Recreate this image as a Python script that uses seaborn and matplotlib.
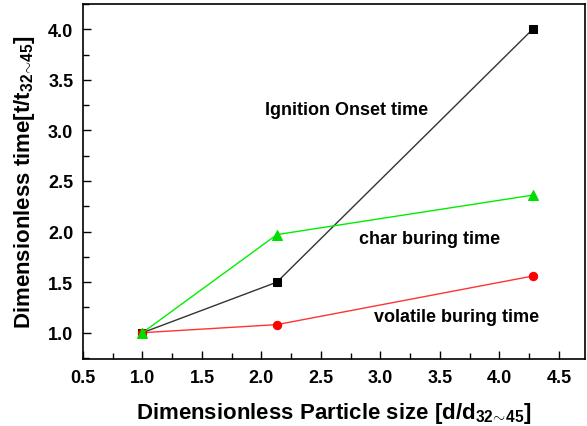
import matplotlib
matplotlib.use("Agg")
import matplotlib.pyplot as plt
import seaborn as sns
import pandas as pd
from matplotlib.ticker import MultipleLocator, FormatStrFormatter

particle_size = [1.0, 2.13, 4.28]
ignition_onset = [1.0, 1.5, 4.0]
char_burning = [1.0, 1.97, 2.36]
volatile_burning = [1.0, 1.08, 1.56]

series_names = ["Ignition Onset time", "char buring time", "volatile buring time"]
series_values = [ignition_onset, char_burning, volatile_burning]

rows = []
for name, vals in zip(series_names, series_values):
    for x, y in zip(particle_size, vals):
        rows.append({"x": x, "y": y, "series": name})
df = pd.DataFrame(rows)

sns.set_style("ticks")
plt.rcParams["font.family"] = ["Liberation Sans", "DejaVu Sans"]
plt.rcParams["font.weight"] = "bold"
plt.rcParams["text.color"] = "black"
plt.rcParams["axes.labelcolor"] = "black"
plt.rcParams["xtick.color"] = "black"
plt.rcParams["ytick.color"] = "black"
plt.rcParams["mathtext.fontset"] = "custom"
plt.rcParams["mathtext.rm"] = "Liberation Sans:bold"
plt.rcParams["mathtext.bf"] = "Liberation Sans:bold"
plt.rcParams["mathtext.it"] = "Liberation Sans:bold"

fig = plt.figure(figsize=(5.87, 4.27), dpi=100)
ax = fig.add_axes([83/587, 1 - 360/427, (585-83)/587, (360-5)/427])

colors = {"Ignition Onset time": "#333333", "char buring time": "#00ee00", "volatile buring time": "#ff3333"}
mcolors = {"Ignition Onset time": "black", "char buring time": "#00dd00", "volatile buring time": "#ff0000"}
markers = {"Ignition Onset time": "s", "char buring time": "^", "volatile buring time": "o"}
msizes = {"Ignition Onset time": 5.5, "char buring time": 7.5, "volatile buring time": 6}

for name in series_names:
    sub = df[df["series"] == name]
    sns.lineplot(data=sub, x="x", y="y", ax=ax, color=colors[name], lw=1.0,
                 marker=markers[name], markersize=msizes[name],
                 markerfacecolor=mcolors[name], markeredgecolor=mcolors[name],
                 legend=False, zorder=3 if name != "char buring time" else 4)

ax.set_xlim(0.5, 4.72)
ax.set_ylim(0.74, 4.25)
ax.xaxis.set_major_locator(MultipleLocator(0.5))
ax.xaxis.set_minor_locator(MultipleLocator(0.25))
ax.yaxis.set_major_locator(MultipleLocator(0.5))
ax.yaxis.set_minor_locator(MultipleLocator(0.25))
ax.tick_params(which="both", direction="in", top=False, right=False, colors="black")
ax.tick_params(which="major", length=6, width=1, labelsize=13, pad=7)
ax.tick_params(which="minor", length=4, width=1)
ax.xaxis.set_major_formatter(FormatStrFormatter("%.1f"))
ax.yaxis.set_major_formatter(FormatStrFormatter("%.1f"))
for lab in ax.get_xticklabels() + ax.get_yticklabels():
    lab.set_fontweight("bold")
for sp in ax.spines.values():
    sp.set_color("black")
    sp.set_linewidth(1.2)

ax.set_xlabel(r"Dimensionless Particle size [d/d$_{32\!\sim\!45}$]", fontsize=16, fontweight="bold", labelpad=10)
ax.set_ylabel(r"Dimensionless time[t/t$_{32\!\sim\!45}$]", fontsize=16, fontweight="bold", labelpad=8)

ax.text(2.03, 3.21, "Ignition Onset time", fontsize=13, fontweight="bold", va="center", ha="left", color="black")
ax.text(2.82, 1.93, "char buring time", fontsize=13, fontweight="bold", va="center", ha="left", color="black")
ax.text(2.95, 1.16, "volatile buring time", fontsize=13, fontweight="bold", va="center", ha="left", color="black")

fig.savefig("out.png", dpi=100)
